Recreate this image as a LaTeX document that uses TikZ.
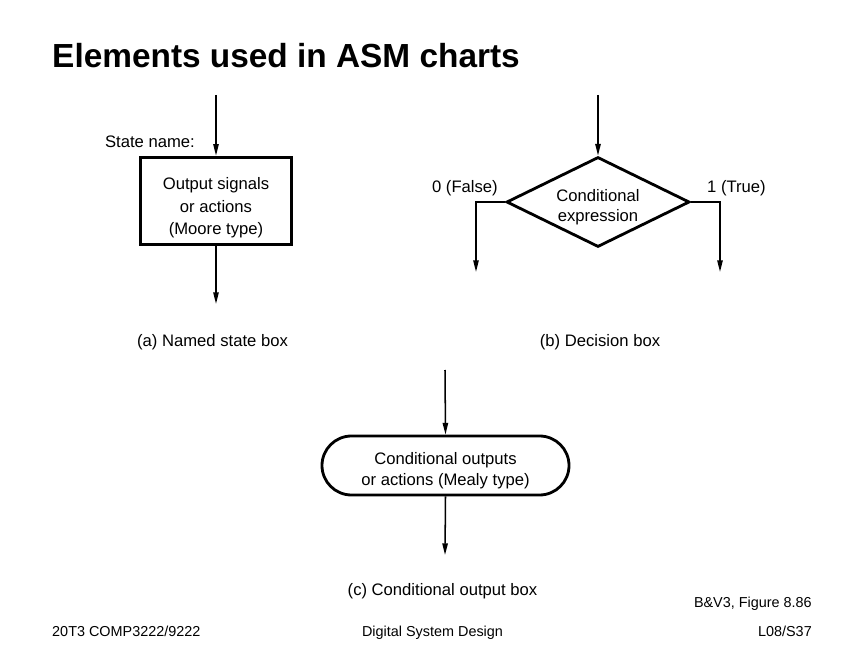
\documentclass[tikz,border=0pt]{standalone}
\usepackage{fontspec}
\setmainfont{Liberation Sans}
\usetikzlibrary{arrows.meta,shapes.geometric,shapes.misc,positioning}

\begin{document}
\begin{tikzpicture}[x=0.03cm, y=-0.03cm,
  every node/.style = {inner sep = 0pt, font = \fontsize{14.2}{19}\selectfont},
  arr/.style = {line width = 1.3pt, -{Triangle[length = 10pt, width = 4.6pt]}},
  statebox/.style = {draw, shape = rectangle, line width = 2.4pt, minimum width = 4.53cm, minimum height = 2.63cm},
  decbox/.style = {draw, shape = diamond, aspect = 2, line width = 2.4pt, minimum width = 5.49cm, minimum height = 2.7cm},
  condbox/.style = {draw, shape = rounded rectangle, line width = 2.4pt, minimum width = 7.41cm, minimum height = 1.77cm},
  boxtext/.style = {align = center},
  caption/.style = {anchor = base},
  footer/.style = {anchor = base, font = \fontsize{12.3}{15}\selectfont}]
\useasboundingbox (0,0) rectangle (864,648);
\node[anchor = base west, font = \fontsize{28.5}{34}\selectfont\bfseries] (title) at (52,68) {Elements used in ASM charts};
\node[statebox] (state) at (216,201) {};
\node[boxtext, font = \fontsize{14.2}{19.1}\selectfont] (statetxt) at ([yshift = -6pt]state.center) {Output signals\\ or actions\\(Moore type)};
\node[anchor = base east] (sname) at (195,148) {State name:};
\node[decbox] (dec) at (598,202) {};
\node[boxtext, font = \fontsize{14.2}{16.5}\selectfont] (dectxt) at ([yshift = -4.3pt]dec.center) {Conditional\\expression};
\node[anchor = base east] (false) at (498,192) {0 (False)};
\node[anchor = base west] (true) at (707,192) {1 (True)};
\node[condbox] (cond) at (445.5,465.5) {};
\node[boxtext, font = \fontsize{14.2}{17.9}\selectfont] (condtxt) at ([yshift = -4.3pt]cond.center) {Conditional outputs\\or actions (Mealy type)};
\coordinate (sin) at (216,95);
\coordinate (sout) at (216,304);
\coordinate (din) at (598,95);
\coordinate (dfalse) at (476,272);
\coordinate (dtrue) at (720,272);
\coordinate (cin) at (445,370);
\coordinate (cout) at (445,555);
\draw[arr] (sin) -- (state.north);
\draw[arr] (state.south) -- (sout);
\draw[arr] (din) -- (dec.north);
\draw[arr] (dec.west) -| (dfalse);
\draw[arr] (dec.east) -| (dtrue);
\draw[arr] (cin) -- (cond.north);
\draw[arr] (cond.south) -- (cout);
\node[caption] (capa) at (212.5,346) {(a) Named state box};
\node[caption] (capb) at (600,346) {(b) Decision box};
\node[caption] (capc) at (442.5,595) {(c) Conditional output box};
\node[footer, anchor = base east] (fig) at (812,607) {B\&V3, Figure 8.86};
\node[footer, anchor = base west] (course) at (52,636) {20T3 COMP3222/9222};
\node[footer] (subj) at (432.5,636) {Digital System Design};
\node[footer, anchor = base east] (slide) at (812,636) {L08/S37};
\end{tikzpicture}
\end{document}
